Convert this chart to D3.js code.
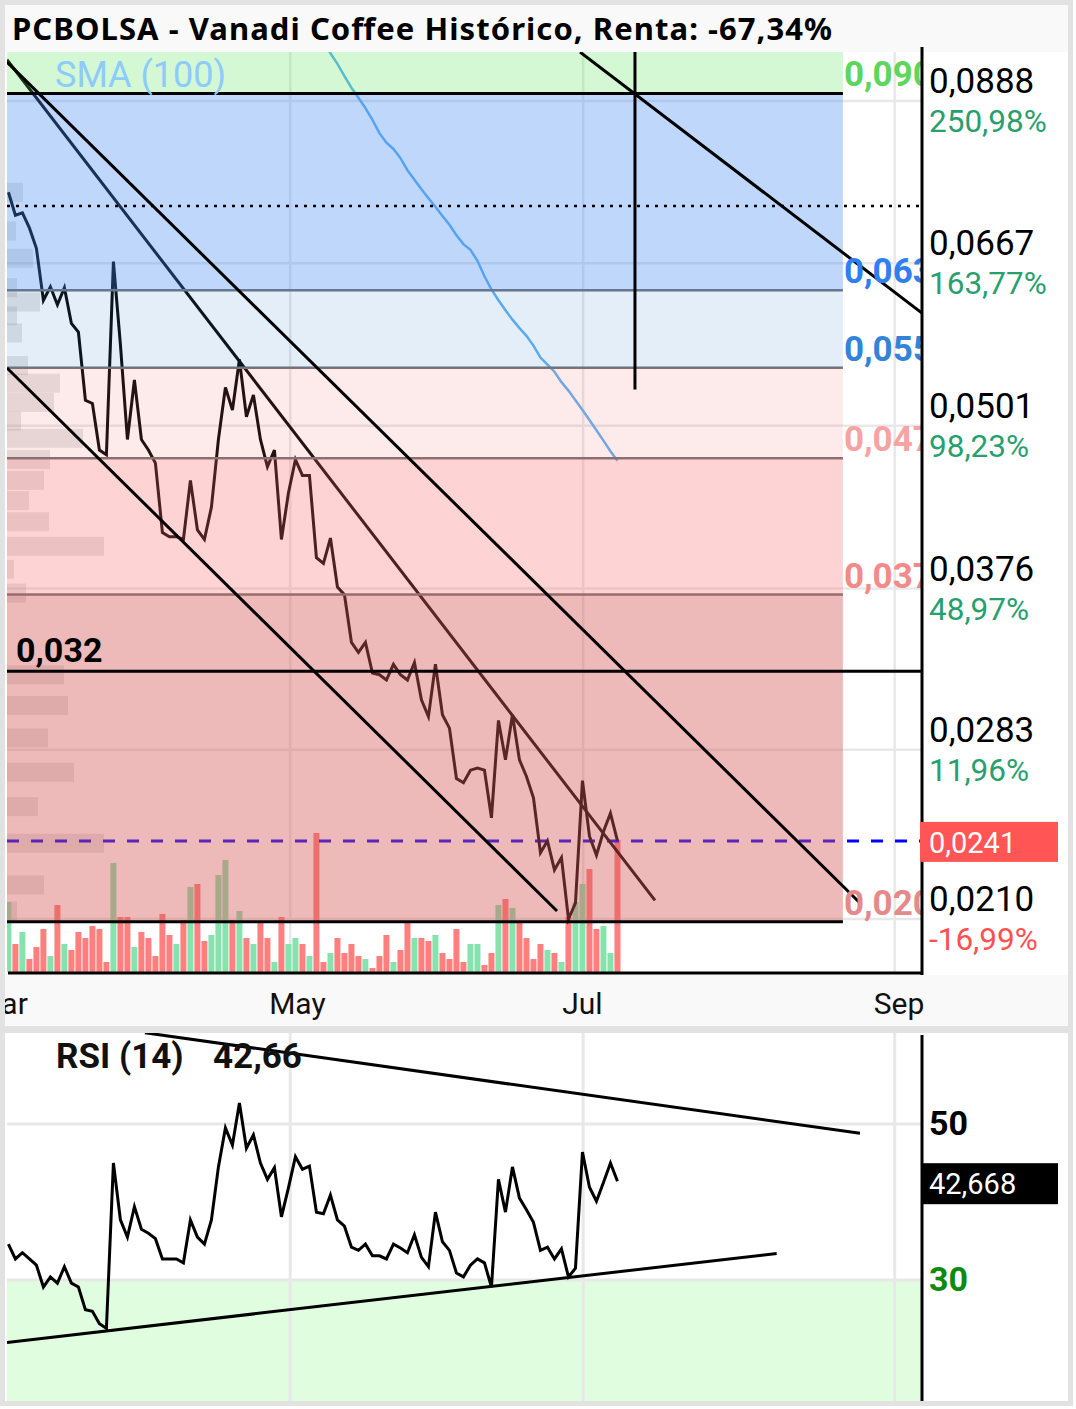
<!DOCTYPE html>
<html>
<head>
<meta charset="utf-8">
<script src="https://cdn.jsdelivr.net/npm/d3@7"></script>
<style>
  html, body { margin: 0; padding: 0; background: #fff; }
  svg { display: block; }
  text { font-family: Roboto, "Noto Sans", sans-serif; }
</style>
</head>
<body>
<div id="chart"></div>
<script>
// PCBOLSA - Vanadi Coffee: price (log), volume, fib bands, SMA, RSI
const title = "PCBOLSA - Vanadi Coffee Histórico, Renta: -67,34%";

// daily closes, one per session
const closes = [
  0.0756, 0.0726, 0.0729, 0.0710, 0.0685, 0.0625, 0.0640, 0.0620, 0.0639, 0.0600,
  0.0591, 0.0524, 0.0521, 0.0480, 0.0476, 0.0669, 0.0578, 0.0489, 0.0543, 0.0489,
  0.0480, 0.0469, 0.0415, 0.0412, 0.0412, 0.0410, 0.0455, 0.0417, 0.0410, 0.0434,
  0.0489, 0.0536, 0.0515, 0.0563, 0.0509, 0.0529, 0.0489, 0.0466, 0.0480, 0.0410,
  0.0445, 0.0472, 0.0459, 0.0459, 0.0397, 0.0393, 0.0411, 0.0377, 0.0372, 0.0342,
  0.0336, 0.0342, 0.0324, 0.0323, 0.0320, 0.0329, 0.0323, 0.0320, 0.0330, 0.0309,
  0.0300, 0.0329, 0.0301, 0.0294, 0.0269, 0.0267, 0.0273, 0.0274, 0.0273, 0.0251,
  0.0298, 0.0278, 0.0301, 0.0278, 0.0270, 0.0260, 0.0236, 0.0241, 0.0229, 0.0234,
  0.0210, 0.0216, 0.0268, 0.0243, 0.0235, 0.0245, 0.0253, 0.0241
];

const volumes = [
  700000, 280000, 400000, 130000, 250000, 430000, 160000, 670000, 280000, 220000,
  400000, 340000, 460000, 430000, 100000, 1090000, 550000, 550000, 250000, 400000,
  340000, 160000, 580000, 370000, 280000, 520000, 850000, 880000, 310000, 370000,
  970000, 1120000, 520000, 610000, 340000, 280000, 490000, 340000, 100000, 550000,
  280000, 340000, 280000, 160000, 1390000, 100000, 190000, 340000, 190000, 280000,
  160000, 130000, 40000, 160000, 370000, 100000, 220000, 490000, 340000, 340000,
  310000, 370000, 190000, 130000, 430000, 100000, 280000, 280000, 70000, 190000,
  670000, 730000, 640000, 490000, 340000, 130000, 280000, 220000, 190000, 100000,
  550000, 700000, 880000, 1030000, 430000, 460000, 190000, 1320000
];

const rsi14 = [
  34.6, 32.7, 33.5, 32.7, 31.9, 29.1, 30.4, 29.6, 31.7, 29.6,
  29.1, 26.2, 26.0, 24.4, 23.8, 45.0, 37.7, 35.5, 39.4, 36.5,
  36.0, 35.3, 32.7, 32.7, 32.7, 32.2, 37.7, 35.5, 34.6, 37.7,
  44.5, 49.5, 47.3, 52.7, 46.9, 48.6, 45.0, 42.9, 44.4, 38.1,
  41.8, 45.8, 44.2, 44.6, 38.7, 38.5, 40.9, 37.7, 36.9, 34.2,
  33.8, 34.6, 33.1, 33.1, 32.7, 34.6, 34.1, 33.5, 35.8, 32.9,
  31.7, 38.7, 34.9, 33.8, 30.9, 30.4, 31.9, 32.7, 32.2, 29.1,
  42.9, 38.7, 44.5, 40.5, 39.0, 37.4, 33.8, 34.2, 32.7, 34.0,
  30.4, 31.5, 46.4, 41.9, 40.1, 42.5, 45.0, 42.668
];

// SMA(100), visible part starts at session 44
const smaStart = 44;
const sma100 = [
  0.1008, 0.0987, 0.0966, 0.0948, 0.0928, 0.0909, 0.0893, 0.0877, 0.0859, 0.0839,
  0.0825, 0.0816, 0.0803, 0.0786, 0.0773, 0.0760, 0.0748, 0.0737, 0.0725, 0.0714,
  0.0701, 0.0690, 0.0683, 0.0670, 0.0652, 0.0637, 0.0625, 0.0614, 0.0604, 0.0595,
  0.0587, 0.0577, 0.0565, 0.0558, 0.0551, 0.0541, 0.0533, 0.0524, 0.0515, 0.0506,
  0.0497, 0.0488, 0.0479, 0.0471
];

// price axis
const priceTicks = [0.0888, 0.0667, 0.0501, 0.0376, 0.0283, 0.0210];
const priceTickLabels = ["0,0888", "0,0667", "0,0501", "0,0376", "0,0283", "0,0210"];
const pctLabels = ["250,98%", "163,77%", "98,23%", "48,97%", "11,96%", "-16,99%"];

// time axis (session index of month start)
const monthTicks = [-1.75, 40.25, 82.1, 126.6];
const monthLabels = ["Mar", "May", "Jul", "Sep"];

// fibonacci levels (bottom -> top)
const fibLevels = [0.0209, 0.0372, 0.0473, 0.0555, 0.0636, 0.0900];
const fibLabels = ["0,0209", "0,0372", "0,0473", "0,0555", "0,0636", "0,0900"];
const fibEnd = 119.2;

// volume profile on the left
const profilePrices = [0.0756, 0.0706, 0.0673, 0.0639, 0.0623, 0.0608, 0.0590, 0.0557, 0.0540,
  0.0522, 0.0505, 0.0490, 0.0472, 0.0455, 0.0439, 0.0423, 0.0405, 0.0389, 0.0373, 0.0323,
  0.0306, 0.0289, 0.0272, 0.0256, 0.0240, 0.0223, 0.0213];
const profileVolumes = [16000, 9000, 26000, 10000, 33000, 10000, 15000, 21000, 53000,
  47000, 14000, 76000, 43000, 37000, 22000, 42000, 97000, 7000, 19000, 57000,
  61000, 41000, 67000, 31000, 97000, 37000, 10000];

// drawn lines: [session, price]
const channelMid = [[-0.2, 0.0955], [92.36, 0.0217]];
const channelTop = [[-0.2, 0.0951], [121.5, 0.02164]];
const channelLow = [[-0.2, 0.05547], [78.36, 0.0213]];
const lineRight = [[81.65, 0.0968], [130.5, 0.0611]];
const lineVert = [[89.5, 0.0968], [89.5, 0.0534]];
const dottedLevel = 0.0738;
const supportLevel = 0.0325;
const supportLabel = "0,032";
const lastPrice = 0.0241;
const lastPriceLabel = "0,0241";

// RSI
const rsiTicks = [50, 30];
const rsiTrendTop = [[19.5, 61.7], [121.64, 48.8]];
const rsiTrendLow = [[-0.2, 22.0], [109.74, 33.4]];
const lastRsiLabel = "42,668";
const rsiTitle = "RSI (14)";
const rsiValueTitle = "42,66";

// ---------------------------------------------------------------
const W = 1076, H = 1409;
const L = 7, R = 922, T = 52, B = 973;
const rsiT = 1033, rsiB = 1401;

const svg = d3.select("#chart").append("svg").attr("width", W).attr("height", H);

const x = d3.scaleLinear().domain([-0.2, 130.5]).range([L, R]);
const y = d3.scaleLog().domain([0.0210, 0.0888]).range([919, 101]);
const yVol = d3.scaleLinear().domain([0, 1400000]).range([972, 832]);
const yRsi = d3.scaleLinear().domain([30, 50]).range([1280, 1124]);
const wProf = d3.scaleLinear().domain([0, 100000]).range([0, 100]);

// frame & panels
svg.append("rect").attr("width", W).attr("height", H).attr("fill", "#fff");
svg.append("rect").attr("x", 2.5).attr("y", 2.5).attr("width", 1068).attr("height", 1401)
  .attr("fill", "none").attr("stroke", "#e2e2e2").attr("stroke-width", 5);
svg.append("rect").attr("x", 5).attr("y", 5).attr("width", 1063).attr("height", T - 5).attr("fill", "#f9f9f9");
svg.append("rect").attr("x", 5).attr("y", 975).attr("width", 1063).attr("height", 51).attr("fill", "#f9f9f9");
svg.append("rect").attr("x", 5).attr("y", 1026).attr("width", 1063).attr("height", 7).attr("fill", "#e2e2e2");

const defs = svg.append("defs");
defs.append("clipPath").attr("id", "clipMain").append("rect")
  .attr("x", L).attr("y", T).attr("width", R - L).attr("height", B - T);
defs.append("clipPath").attr("id", "clipRsi").append("rect")
  .attr("x", L).attr("y", rsiT).attr("width", R - L).attr("height", rsiB - rsiT);
defs.append("clipPath").attr("id", "clipLabels").append("rect")
  .attr("x", L).attr("y", T).attr("width", R - L - 1).attr("height", B - T);

const g = svg.append("g").attr("clip-path", "url(#clipMain)");
const gridColor = "#e8e8e8";

// grid
g.selectAll(".hgrid").data(priceTicks).join("line")
  .attr("x1", L).attr("x2", R).attr("y1", d => y(d)).attr("y2", d => y(d))
  .attr("stroke", gridColor).attr("stroke-width", 2.5);
g.selectAll(".vgrid").data(monthTicks).join("line")
  .attr("x1", d => x(d)).attr("x2", d => x(d)).attr("y1", T).attr("y2", B)
  .attr("stroke", gridColor).attr("stroke-width", 2.5);

// volume profile
g.selectAll(".prof").data(profilePrices).join("rect")
  .attr("x", L).attr("y", d => y(d) - 9.5).attr("height", 19)
  .attr("width", (d, i) => wProf(profileVolumes[i]))
  .attr("fill", "#808080").attr("opacity", 0.2);

// volume bars
g.selectAll(".vol").data(volumes).join("rect")
  .attr("x", (d, i) => x(i) - 3).attr("width", 6)
  .attr("y", d => yVol(d)).attr("height", d => yVol(0) - yVol(d))
  .attr("fill", (d, i) => (i === 0 || closes[i] >= closes[i - 1]) ? "#86e3ae" : "#ff7f7f");

// last price dashed
g.append("line").attr("x1", L).attr("x2", R).attr("y1", y(lastPrice)).attr("y2", y(lastPrice))
  .attr("stroke", "#0000ff").attr("stroke-width", 3).attr("stroke-dasharray", "12,12");

const pline = d3.line().x(d => x(d[0])).y(d => y(d[1]));

// SMA
g.append("path")
  .attr("d", pline(sma100.map((v, i) => [smaStart + i, v])))
  .attr("fill", "none").attr("stroke", "#5eb0f2").attr("stroke-width", 2.5);

// middle channel line (under bands)
g.append("path").attr("d", pline(channelMid))
  .attr("stroke", "#000").attr("stroke-width", 3);

// price
g.append("path")
  .attr("d", pline(closes.map((v, i) => [i, v])))
  .attr("fill", "none").attr("stroke", "#000").attr("stroke-width", 3).attr("stroke-linejoin", "miter");

// intermediate fib lines (tinted by bands)
g.selectAll(".fibmid").data(fibLevels.slice(1, -1)).join("line")
  .attr("x1", L).attr("x2", x(fibEnd)).attr("y1", d => y(d)).attr("y2", d => y(d))
  .attr("stroke", "#707070").attr("stroke-width", 2.5);

// fib bands (translucent, over the price)
const bandFill = ["#d65858", "#f86c6c", "#f27878", "#448ed7", "#488df4", "#53e353"];
const bandAlpha = [0.42, 0.30, 0.15, 0.15, 0.35, 0.25];
const bandTops = fibLevels.slice(1).concat([0.2]);
g.selectAll(".band").data(fibLevels).join("rect")
  .attr("x", L).attr("width", x(fibEnd) - L)
  .attr("y", (d, i) => y(bandTops[i])).attr("height", (d, i) => y(d) - y(bandTops[i]))
  .attr("fill", (d, i) => bandFill[i]).attr("fill-opacity", (d, i) => bandAlpha[i]);

// outer fib lines
g.selectAll(".fibedge").data([fibLevels[0], fibLevels[fibLevels.length - 1]]).join("line")
  .attr("x1", L).attr("x2", x(fibEnd)).attr("y1", d => y(d)).attr("y2", d => y(d))
  .attr("stroke", "#000").attr("stroke-width", 3);

// dotted level and support level
g.append("line").attr("x1", L).attr("x2", R).attr("y1", y(dottedLevel)).attr("y2", y(dottedLevel))
  .attr("stroke", "#000").attr("stroke-width", 2.5).attr("stroke-dasharray", "3,6");
g.append("line").attr("x1", L).attr("x2", R).attr("y1", y(supportLevel)).attr("y2", y(supportLevel))
  .attr("stroke", "#000").attr("stroke-width", 3);

// trend lines over bands
[channelTop, channelLow, lineRight, lineVert].forEach(pts => {
  g.append("path").attr("d", pline(pts)).attr("stroke", "#000").attr("stroke-width", 3);
});

// in-plot labels
g.append("text").attr("x", 55).attr("y", 87).attr("font-size", 36).attr("fill", "#8ccbfa")
  .text("SMA (100)");
g.append("text").attr("x", 16).attr("y", y(supportLevel) - 9).attr("font-size", 34)
  .attr("font-weight", "bold").attr("fill", "#000").text(supportLabel);

// fib labels, cut at the axis
const fibColors = ["#e48a8a", "#f28a8a", "#f6a3a3", "#3384d8", "#2f7ff0", "#5cd65c"];
svg.append("g").attr("clip-path", "url(#clipLabels)")
  .selectAll("text").data(fibLevels).join("text")
  .attr("x", x(fibEnd) + 1).attr("y", d => y(d) - 7)
  .attr("font-size", 35).attr("font-weight", "bold")
  .attr("fill", (d, i) => fibColors[i]).text((d, i) => fibLabels[i]);

// axes lines
svg.append("line").attr("x1", R).attr("x2", R).attr("y1", 47).attr("y2", 975)
  .attr("stroke", "#000").attr("stroke-width", 3);
svg.append("line").attr("x1", L + 1).attr("x2", R).attr("y1", B).attr("y2", B)
  .attr("stroke", "#000").attr("stroke-width", 3);

// right axis labels
svg.selectAll(".pl").data(priceTicks).join("text")
  .attr("x", 929).attr("y", d => y(d) - 8).attr("font-size", 35).attr("fill", "#000")
  .text((d, i) => priceTickLabels[i]);
svg.selectAll(".pp").data(priceTicks).join("text")
  .attr("x", 929).attr("y", d => y(d) + 31).attr("font-size", 31.5)
  .attr("fill", (d, i) => pctLabels[i].startsWith("-") ? "#ff5050" : "#27a06e")
  .text((d, i) => pctLabels[i]);

// last price tag
svg.append("rect").attr("x", 920).attr("y", y(lastPrice) - 19).attr("width", 138).attr("height", 40)
  .attr("fill", "#ff5555");
svg.append("text").attr("x", 929).attr("y", y(lastPrice) + 12).attr("font-size", 29)
  .attr("fill", "#fff").text(lastPriceLabel);

// month labels
svg.selectAll(".ml").data(monthTicks).join("text")
  .attr("x", d => x(d) - 21).attr("y", 1014)
  .attr("font-size", 30).attr("fill", "#111").text((d, i) => monthLabels[i]);
// cover left overflow of the first label
svg.append("rect").attr("x", 0).attr("y", 975).attr("width", 5).attr("height", 52).attr("fill", "#e2e2e2");

// title
svg.append("text").attr("x", 12).attr("y", 40)
  .style("font-family", "'Noto Sans', 'Open Sans', sans-serif")
  .attr("font-size", 31).attr("font-weight", "bold").attr("fill", "#000")
  .attr("textLength", 820).attr("lengthAdjust", "spacing").text(title);

// ---------------- RSI panel ----------------
const gr = svg.append("g").attr("clip-path", "url(#clipRsi)");
gr.append("rect").attr("x", L).attr("width", R - L).attr("y", yRsi(30)).attr("height", rsiB - yRsi(30))
  .attr("fill", "#e0fde0");
gr.selectAll(".rh").data(rsiTicks).join("line")
  .attr("x1", L).attr("x2", R).attr("y1", d => yRsi(d)).attr("y2", d => yRsi(d))
  .attr("stroke", gridColor).attr("stroke-width", 3);
gr.selectAll(".rv").data(monthTicks).join("line")
  .attr("x1", d => x(d)).attr("x2", d => x(d)).attr("y1", rsiT).attr("y2", rsiB)
  .attr("stroke", gridColor).attr("stroke-width", 3);

const rline = d3.line().x(d => x(d[0])).y(d => yRsi(d[1]));
gr.append("path").attr("d", rline(rsi14.map((v, i) => [i, v])))
  .attr("fill", "none").attr("stroke", "#000").attr("stroke-width", 3);
[rsiTrendTop, rsiTrendLow].forEach(pts => {
  gr.append("path").attr("d", rline(pts)).attr("stroke", "#000").attr("stroke-width", 3);
});

gr.append("text").attr("x", 56).attr("y", 1068).attr("font-size", 35).attr("font-weight", "bold")
  .attr("fill", "#111").text(rsiTitle);
gr.append("text").attr("x", 213).attr("y", 1068).attr("font-size", 35).attr("font-weight", "bold")
  .attr("fill", "#111").text(rsiValueTitle);

svg.append("line").attr("x1", R).attr("x2", R).attr("y1", 1035).attr("y2", rsiB)
  .attr("stroke", "#000").attr("stroke-width", 3);

svg.selectAll(".rl").data(rsiTicks).join("text")
  .attr("x", 929).attr("y", d => yRsi(d) + 11).attr("font-size", 34).attr("font-weight", "bold")
  .attr("fill", d => d === 30 ? "#0e8a0e" : "#000").text(d => d);

const yLastRsi = yRsi(rsi14[rsi14.length - 1]);
svg.append("rect").attr("x", 921).attr("y", yLastRsi - 18).attr("width", 137).attr("height", 41)
  .attr("fill", "#000");
svg.append("text").attr("x", 929).attr("y", yLastRsi + 13).attr("font-size", 29)
  .attr("fill", "#fff").text(lastRsiLabel);
</script>
</body>
</html>
